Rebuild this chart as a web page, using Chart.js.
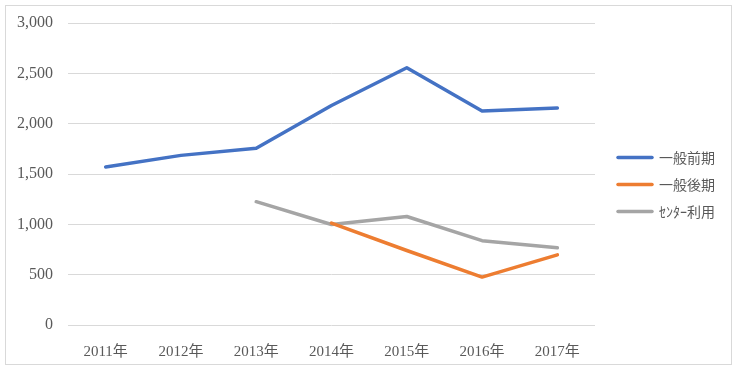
<!DOCTYPE html>
<html lang="ja">
<head>
  <meta charset="UTF-8">
  <title>入試志願者数の推移</title>
  <script src="https://cdn.jsdelivr.net/npm/chart.js"></script>
  <style>
    body { margin: 0; background: #fff; }
    #box { position: absolute; left: 5px; top: 5px; width: 725px; height: 358px; border: 1px solid #d9d9d9; }
  </style>
</head>
<body>
  <div id="box"><canvas id="chart"></canvas></div>

  <script>
    const years = ['2011年', '2012年', '2013年', '2014年', '2015年', '2016年', '2017年'];
    const ippanZenki = [1570, 1685, 1755, 2180, 2555, 2125, 2155];
    const ippanKouki = [null, null, null, 1012, 740, 476, 697];
    const center = [null, null, 1225, 998, 1078, 838, 767];
    const seriesNames = ['一般前期', '一般後期', 'ｾﾝﾀｰ利用'];
    const seriesColors = ['#4472C4', '#ED7D31', '#A5A5A5'];

    const font = "'Liberation Serif', 'Noto Sans CJK JP', serif";

    // 凡例をプロット領域から少し離す
    const legendShift = {
      id: 'legendShift',
      afterLayout(chart) {
        chart.legend.left += 10;
        chart.legend.right += 10;
      }
    };

    const ctx = document.getElementById('chart').getContext('2d');
    new Chart(ctx, {
      type: 'line',
      data: {
        labels: years,
        datasets: [ippanZenki, ippanKouki, center].map((d, i) => ({
          label: seriesNames[i],
          data: d,
          borderColor: seriesColors[i],
          backgroundColor: seriesColors[i],
          borderWidth: 3.5,
          pointRadius: 0,
          tension: 0,
          borderCapStyle: 'round',
          borderJoinStyle: 'round',
          spanGaps: false
        }))
      },
      options: {
        responsive: true,
        maintainAspectRatio: false,
        animation: false,
        layout: { padding: { top: 4, right: 16, left: 0, bottom: 5 } },
        plugins: {
          legend: {
            position: 'right',
            labels: {
              boxWidth: 34,
              boxHeight: 0.1,
              padding: 13,
              color: '#595959',
              font: { family: "'Noto Sans CJK JP', sans-serif", size: 14 }
            }
          },
          tooltip: { enabled: false }
        },
        scales: {
          x: {
            offset: true,
            grid: { display: false },
            border: { display: false },
            ticks: { color: '#595959', font: { family: font, size: 15 }, padding: 10, maxRotation: 0 },
            afterFit: s => { s.height = 34; }
          },
          y: {
            min: 0,
            max: 3000,
            grid: { color: '#d9d9d9', lineWidth: 1, drawTicks: false },
            border: { display: false },
            ticks: {
              stepSize: 500,
              color: '#595959',
              padding: 15,
              font: { family: font, size: 16 },
              callback: v => v.toLocaleString('en-US')
            },
            afterFit: s => { s.width = 62; s.paddingTop = 17; s.paddingBottom = 0; }
          }
        }
      },
      plugins: [legendShift]
    });
  </script>
</body>
</html>
